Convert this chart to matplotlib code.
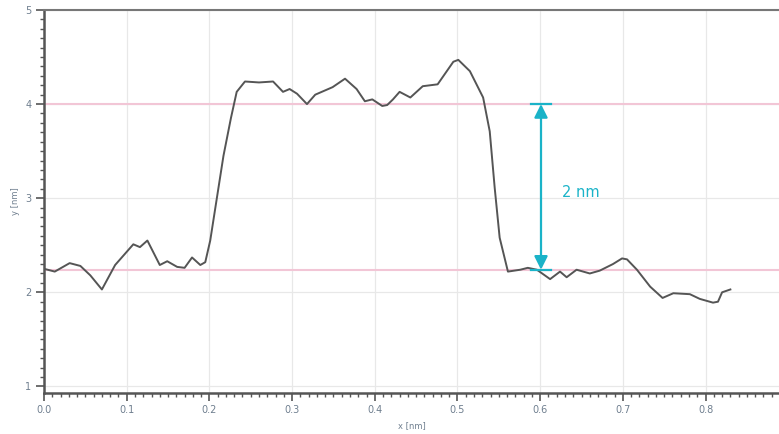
import numpy as np
import matplotlib
matplotlib.use("Agg")
from matplotlib import pyplot as plt
from matplotlib.ticker import MultipleLocator

# profile trace
x_nm = [0.000, 0.013, 0.031, 0.044, 0.056, 0.070, 0.086, 0.108, 0.116, 0.125,
        0.140, 0.149, 0.161, 0.170, 0.179, 0.189, 0.195, 0.201, 0.209, 0.217,
        0.226, 0.233, 0.243, 0.260, 0.277, 0.289, 0.297, 0.306, 0.318, 0.328,
        0.349, 0.364, 0.378, 0.388, 0.397, 0.409, 0.415, 0.422, 0.430, 0.443,
        0.458, 0.476, 0.495, 0.501, 0.515, 0.531, 0.539, 0.545, 0.551, 0.561,
        0.576, 0.585, 0.596, 0.612, 0.624, 0.632, 0.644, 0.660, 0.672, 0.688,
        0.699, 0.705, 0.717, 0.733, 0.748, 0.761, 0.781, 0.793, 0.809, 0.815,
        0.820, 0.830]
y_nm = [2.25, 2.22, 2.31, 2.28, 2.18, 2.03, 2.29, 2.51, 2.48, 2.55,
        2.29, 2.33, 2.27, 2.26, 2.37, 2.29, 2.32, 2.55, 3.00, 3.45,
        3.85, 4.13, 4.24, 4.23, 4.24, 4.13, 4.16, 4.11, 4.00, 4.10,
        4.18, 4.27, 4.16, 4.03, 4.05, 3.98, 3.99, 4.05, 4.13, 4.07,
        4.19, 4.21, 4.45, 4.47, 4.35, 4.07, 3.71, 3.11, 2.58, 2.22,
        2.24, 2.26, 2.24, 2.14, 2.22, 2.16, 2.24, 2.20, 2.23, 2.30,
        2.36, 2.35, 2.24, 2.06, 1.94, 1.99, 1.98, 1.93, 1.89, 1.90,
        2.00, 2.03]

ref_levels = [4.0, 2.24]
step_height = "2 nm"
arrow_x = 0.601

fig = plt.figure(figsize=(7.79, 4.34), dpi=100)
ax = fig.add_axes([0.0565, 0.0945, 0.9435, 0.8825])

tick_col = "#6f7f8f"
spine_col = "#555555"

ax.plot(x_nm, y_nm, color="#555555", lw=1.4, zorder=3)

for lev in ref_levels:
    ax.axhline(lev, color="#f2c6d6", lw=1.5, zorder=2)

# step height marker
cyan = "#1ab3c8"
ax.annotate("", xy=(arrow_x, ref_levels[0]), xytext=(arrow_x, ref_levels[1]),
            arrowprops=dict(arrowstyle="<|-|>", color=cyan, lw=1.6,
                            mutation_scale=20, shrinkA=0, shrinkB=0), zorder=4)
for lev in ref_levels:
    ax.plot([arrow_x - 0.012, arrow_x + 0.012], [lev, lev], color=cyan, lw=1.6, zorder=4)
ax.text(arrow_x + 0.025, 3.06, step_height, color=cyan, fontsize=10.5, va="center")

ax.xaxis.set_major_locator(MultipleLocator(0.1))
ax.xaxis.set_minor_locator(MultipleLocator(0.01))
ax.yaxis.set_major_locator(MultipleLocator(1))
ax.yaxis.set_minor_locator(MultipleLocator(0.1))
ax.set_xlim(0, 0.8888)
ax.set_ylim(0.93, 5.0)
ax.xaxis.set_major_formatter(lambda v, pos: "%.1f" % v)

# the 0.9 label sits past the crop edge
ax.text(0.9, -0.027, "0.9", transform=ax.get_xaxis_transform(), ha="center",
        va="top", fontsize=7, color=tick_col, clip_on=False)

ax.grid(True, which="major", color="#e8e8e8", lw=0.9, zorder=0)

ax.tick_params(which="major", direction="out", length=6, width=1.2,
               color=spine_col, labelsize=7, labelcolor=tick_col, pad=3)
ax.tick_params(which="minor", direction="out", length=3, width=1.0, color=spine_col)

for side in ["left", "bottom"]:
    ax.spines[side].set_color(spine_col)
    ax.spines[side].set_linewidth(1.8)
ax.spines["top"].set_color("#777777")
ax.spines["top"].set_linewidth(1.5)
ax.spines["right"].set_visible(False)

ax.set_xlabel("x [nm]", fontsize=6, color=tick_col, labelpad=4)
ax.set_ylabel("y [nm]", fontsize=6, color=tick_col, labelpad=4)

fig.savefig("out.png", dpi=100)
